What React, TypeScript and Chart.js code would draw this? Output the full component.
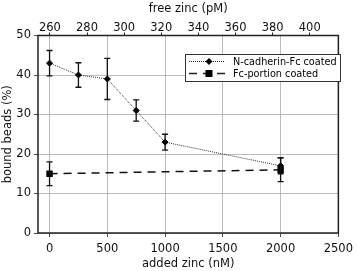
import React, { useEffect, useRef } from "react";
import { Chart, registerables } from "chart.js";

Chart.register(...registerables);

const addedZinc = [0, 250, 500, 750, 1000, 2000];
const ncadherin = [43, 40, 39, 31, 23, 17];
const ncadherinErr = [3.2, 3.1, 5.2, 2.7, 2.0, 2.0];
const fcZinc = [0, 2000];
const fcPortion = [15, 16];
const fcPortionErr = [3.0, 3.0];
const bottomTicks = [0, 500, 1000, 1500, 2000, 2500];
const topTicks = [260, 280, 300, 320, 340, 360, 380, 400];
const yTicks = [0, 10, 20, 30, 40, 50];
const seriesLabels = ["N-cadherin-Fc coated", "Fc-portion coated"];

const FONT = "'DejaVu Sans', sans-serif";
const FS = 11.5;

const errorBarPlugin = {
  id: "errorBars",
  afterDatasetsDraw(chart: any) {
    const ctx = chart.ctx;
    const xs = chart.scales.x;
    const ys = chart.scales.y;
    const sets = [
      { xv: addedZinc, yv: ncadherin, ev: ncadherinErr },
      { xv: fcZinc, yv: fcPortion, ev: fcPortionErr },
    ];
    ctx.save();
    ctx.strokeStyle = "#111";
    ctx.lineWidth = 1.3;
    sets.forEach((s) => {
      s.xv.forEach((xv, i) => {
        const px = xs.getPixelForValue(xv);
        const top = ys.getPixelForValue(s.yv[i] + s.ev[i]);
        const bot = ys.getPixelForValue(s.yv[i] - s.ev[i]);
        ctx.beginPath();
        ctx.moveTo(px, top);
        ctx.lineTo(px, bot);
        ctx.moveTo(px - 3, top);
        ctx.lineTo(px + 3, top);
        ctx.moveTo(px - 3, bot);
        ctx.lineTo(px + 3, bot);
        ctx.stroke();
      });
    });
    ctx.restore();
  },
  afterDraw(chart: any) {
    const ctx = chart.ctx;
    const a = chart.chartArea;
    ctx.save();
    ctx.strokeStyle = "#222";
    ctx.lineWidth = 1.5;
    ctx.strokeRect(a.left, a.top, a.right - a.left, a.bottom - a.top);
    // legend
    const lx = 185, ly = 54, lw = 155, lh = 27;
    ctx.fillStyle = "#fff";
    ctx.fillRect(lx, ly, lw, lh);
    ctx.strokeStyle = "#333";
    ctx.lineWidth = 1;
    ctx.strokeRect(lx + 0.5, ly + 0.5, lw, lh);
    ctx.font = `9.7px ${FONT}`;
    ctx.textBaseline = "middle";
    ctx.textAlign = "left";
    const r1 = ly + 7.5, r2 = ly + 19.5;
    const mx = lx + 24;
    ctx.strokeStyle = "#222";
    ctx.setLineDash([1, 1]);
    ctx.beginPath();
    ctx.moveTo(lx + 4, r1);
    ctx.lineTo(lx + 40, r1);
    ctx.stroke();
    ctx.setLineDash([]);
    ctx.fillStyle = "#000";
    ctx.beginPath();
    ctx.moveTo(mx, r1 - 3.5);
    ctx.lineTo(mx + 3.5, r1);
    ctx.lineTo(mx, r1 + 3.5);
    ctx.lineTo(mx - 3.5, r1);
    ctx.closePath();
    ctx.fill();
    ctx.fillText(seriesLabels[0], lx + 48, r1 + 0.5);
    ctx.lineWidth = 1.5;
    ctx.setLineDash([8, 6]);
    ctx.beginPath();
    ctx.moveTo(lx + 4, r2);
    ctx.lineTo(lx + 40, r2);
    ctx.stroke();
    ctx.setLineDash([]);
    ctx.fillRect(mx - 3.5, r2 - 3.5, 7, 7);
    ctx.fillText(seriesLabels[1], lx + 48, r2 + 0.5);
    ctx.restore();
  },
};

const plainLabel = (v: any) => String(v);

export default function App() {
  const ref = useRef<HTMLCanvasElement>(null);
  useEffect(() => {
    if (!ref.current) return;
    const gridCommon = {
      color: "#aaa",
      tickColor: "#222",
      tickLength: 4,
      lineWidth: 0.8,
    };
    const chart = new Chart(ref.current, {
      type: "line",
      data: {
        datasets: [
          {
            label: seriesLabels[0],
            data: addedZinc.map((x, i) => ({ x, y: ncadherin[i] })),
            borderColor: "#333",
            borderWidth: 1,
            borderDash: [1, 1],
            pointStyle: "rectRot",
            pointRadius: 3,
            pointBackgroundColor: "#000",
            pointBorderColor: "#000",
            xAxisID: "x",
            yAxisID: "y",
          },
          {
            label: seriesLabels[1],
            data: fcZinc.map((x, i) => ({ x, y: fcPortion[i] })),
            borderColor: "#111",
            borderWidth: 1.5,
            borderDash: [8, 6],
            pointStyle: "rect",
            pointRadius: 3.5,
            pointBackgroundColor: "#000",
            pointBorderColor: "#000",
            xAxisID: "x",
            yAxisID: "y",
          },
        ],
      },
      options: {
        animation: false,
        responsive: false,
        maintainAspectRatio: false,
        layout: { padding: { left: 0, right: 16, top: 0, bottom: 0 } },
        plugins: { legend: { display: false }, tooltip: { enabled: false } },
        scales: {
          x: {
            type: "linear",
            position: "bottom",
            min: -100,
            max: 2500,
            afterBuildTicks: (s: any) => {
              s.ticks = bottomTicks.map((v) => ({ value: v }));
            },
            afterFit: (s: any) => {
              s.height = 38;
            },
            grid: { ...gridCommon } as any,
            border: { display: false } as any,
            ticks: { color: "#111", font: { family: FONT, size: FS }, padding: 5, maxRotation: 0, callback: plainLabel },
            title: {
              display: true,
              text: "added zinc (nM)",
              color: "#111",
              font: { family: FONT, size: FS },
              padding: { top: 1, bottom: 0 },
            },
          },
          x2: {
            type: "linear",
            position: "top",
            min: 253.6,
            max: 415.4,
            afterBuildTicks: (s: any) => {
              s.ticks = topTicks.map((v) => ({ value: v }));
            },
            afterFit: (s: any) => {
              s.height = 35.5;
            },
            grid: { drawOnChartArea: false, tickColor: "#222", tickLength: 3 },
            border: { display: false },
            ticks: { color: "#111", font: { family: FONT, size: FS }, padding: -2, maxRotation: 0, callback: plainLabel },
            title: {
              display: true,
              text: "free zinc (pM)",
              color: "#111",
              font: { family: FONT, size: FS },
              padding: { top: 2, bottom: 0 },
            },
          },
          y: {
            type: "linear",
            min: 0,
            max: 50,
            afterBuildTicks: (s: any) => {
              s.ticks = yTicks.map((v) => ({ value: v }));
            },
            afterFit: (s: any) => {
              s.width = 38;
            },
            grid: { ...gridCommon },
            border: { display: false } as any,
            ticks: { color: "#111", font: { family: FONT, size: FS }, padding: 3, callback: plainLabel },
            title: {
              display: true,
              text: "bound beads (%)",
              color: "#111",
              font: { family: FONT, size: FS },
              padding: { top: 1, bottom: 0 },
            },
          },
        },
      },
      plugins: [errorBarPlugin],
    } as any);
    return () => chart.destroy();
  }, []);
  return (
    <div style={{ position: "fixed", left: 0, top: 0, width: 358, height: 271, background: "#fff" }}>
      <canvas ref={ref} width={358} height={271} style={{ width: 358, height: 271 }} />
    </div>
  );
}
